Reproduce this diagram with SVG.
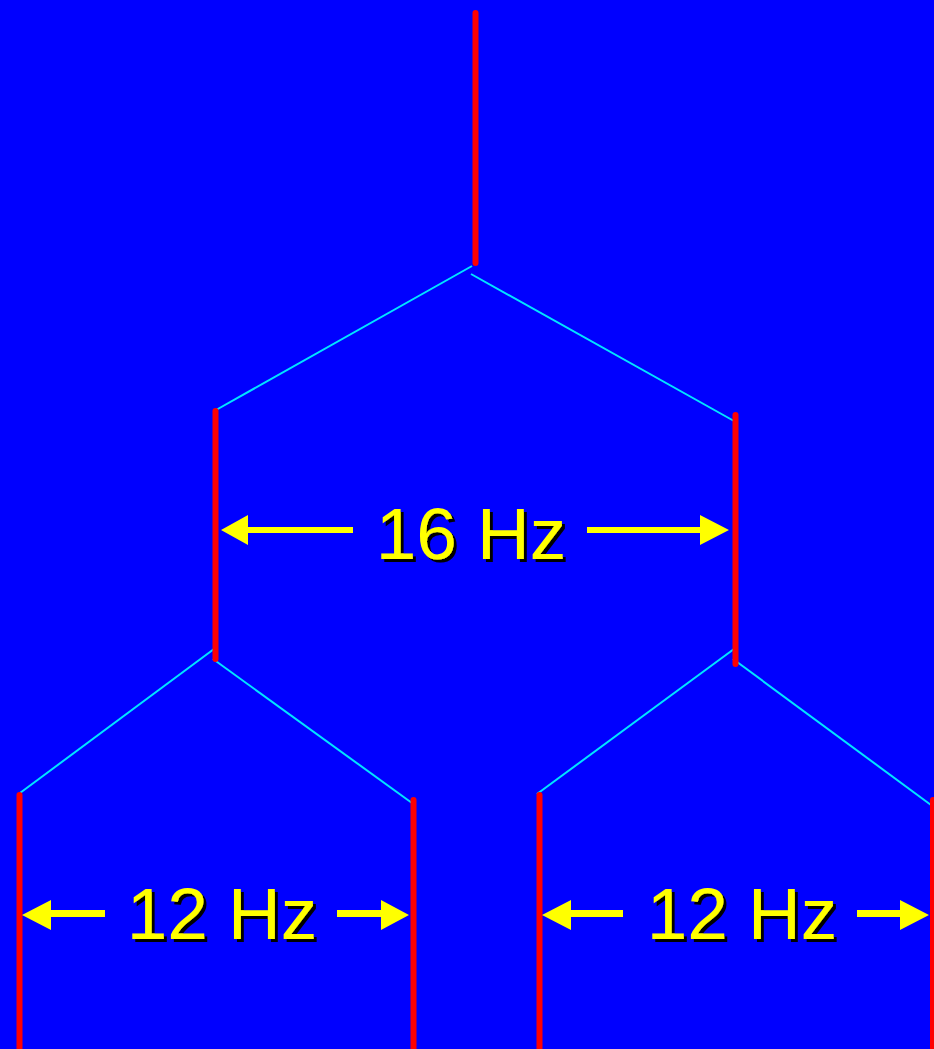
<svg xmlns="http://www.w3.org/2000/svg" width="934" height="1049" viewBox="0 0 934 1049">
<style>
.red{stroke:#ff0000;stroke-width:6;stroke-linecap:round;fill:none}
.cyan{stroke:#00e5ff;stroke-width:2;fill:none}
.arr{fill:#ffff00}
.lbl{font-family:"Liberation Sans",Arial,sans-serif;font-size:73px;text-anchor:middle;fill:#ffff00;filter:url(#sh)}
</style>
<defs>
<filter id="sh" x="-10%" y="-20%" width="130%" height="150%">
<feOffset in="SourceAlpha" dx="3" dy="3" result="o"/>
<feFlood flood-color="#000000"/>
<feComposite in2="o" operator="in" result="s"/>
<feMerge><feMergeNode in="s"/><feMergeNode in="SourceGraphic"/></feMerge>
</filter>
</defs>
<rect x="0" y="0" width="934" height="1049" fill="#0000ff"/>
<g id="connectors">
<line class="cyan" x1="472" y1="266" x2="216" y2="410"/>
<line class="cyan" x1="471" y1="274" x2="734" y2="421"/>
<line class="cyan" x1="214" y1="649" x2="20" y2="793"/>
<line class="cyan" x1="213" y1="659" x2="412" y2="803"/>
<line class="cyan" x1="734" y1="649" x2="537" y2="794"/>
<line class="cyan" x1="733" y1="659" x2="931" y2="805"/>
</g>
<g id="root"><line class="red" x1="475.5" y1="13" x2="475.5" y2="263"/></g>
<g id="mid-left"><line class="red" x1="215.5" y1="411" x2="215.5" y2="659"/></g>
<g id="mid-right"><line class="red" x1="735.5" y1="415" x2="735.5" y2="664"/></g>
<g id="leaf-1"><line class="red" x1="19.5" y1="795" x2="19.5" y2="1055"/></g>
<g id="leaf-2"><line class="red" x1="413.5" y1="800" x2="413.5" y2="1055"/></g>
<g id="leaf-3"><line class="red" x1="539.5" y1="795" x2="539.5" y2="1055"/></g>
<g id="leaf-4"><line class="red" x1="933" y1="800" x2="933" y2="1055"/></g>
<g id="label-16">
<path class="arr" d="M221,530 L248,515 L248,527 L353,527 L353,533 L248,533 L248,545 Z"/>
<path class="arr" d="M729,530 L700,515 L700,527 L587,527 L587,533 L700,533 L700,545 Z"/>
<text class="lbl" x="471" y="559">16 Hz</text>
</g>
<g id="label-12a">
<path class="arr" d="M22,915 L51,900 L51,910 L105,910 L105,917 L51,917 L51,930 Z"/>
<path class="arr" d="M409,915 L381,900 L381,910 L337,910 L337,917 L381,917 L381,930 Z"/>
<text class="lbl" x="222" y="939">12 Hz</text>
</g>
<g id="label-12b">
<path class="arr" d="M542,915 L571,900 L571,910 L623,910 L623,917 L571,917 L571,930 Z"/>
<path class="arr" d="M929,915 L900,900 L900,910 L857,910 L857,917 L900,917 L900,930 Z"/>
<text class="lbl" x="742" y="939">12 Hz</text>
</g>
</svg>
